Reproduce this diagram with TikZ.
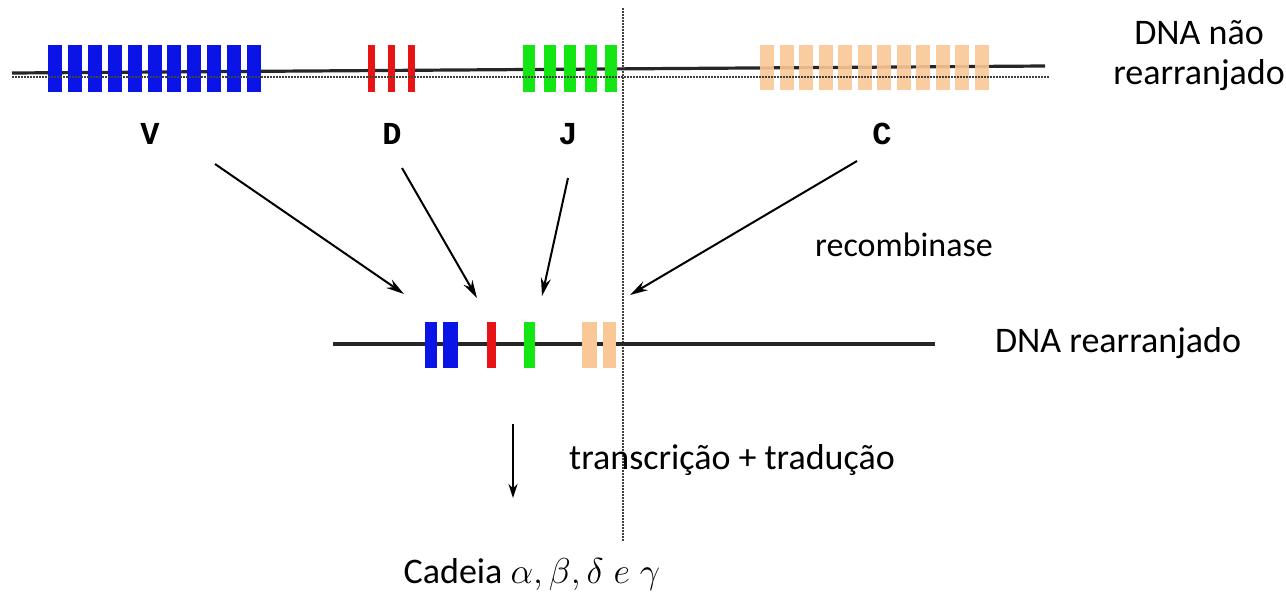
\documentclass[tikz,border=0pt]{standalone}
\usepackage{fix-cm}
\usepackage{fontspec}
\setmainfont{Carlito}
\newfontfamily\monolab{Liberation Mono}
\usetikzlibrary{arrows.meta}
\definecolor{vblue}{RGB}{10,20,230}
\definecolor{dred}{RGB}{230,20,20}
\definecolor{jgreen}{RGB}{20,230,20}
\definecolor{corange}{RGB}{250,200,150}
\tikzset{
  lbl/.style={font=\fontsize{36}{40}\selectfont, inner sep=0pt},
  seglbl/.style={font=\monolab\bfseries\fontsize{32}{34}\selectfont, inner sep=0pt},
  recarrow/.style={line width=2pt, -{Stealth[length=18pt,width=10pt]}},
  dna/.style={line width=3.2pt, black!85},
  dotline/.style={line width=1.3pt, black!75, dash pattern=on 1.5pt off 1.5pt},
}
\begin{document}
\begin{tikzpicture}[x=1pt,y=-1pt]
\useasboundingbox (0,0) rectangle (1286,592);
% vertical dotted separator
\draw[dotline] (623,8) -- (623,542);
% top DNA line
\draw[dna] (12,73) -- (1045,66);
\foreach \i in {0,...,10} \fill[vblue] ({48+19.9*\i},45) rectangle ++(14,47);
\foreach \i in {0,1,2} \fill[dred] ({368+20*\i},45) rectangle ++(7,47);
\foreach \i in {0,...,4} \fill[jgreen] ({523+20.5*\i},45) rectangle ++(12,47);
\foreach \i in {0,...,11} \fill[corange, opacity=0.9] ({760+19.5*\i},45) rectangle ++(14,45);
\draw[dotline] (12,77) -- (1050,77);
% labels
\node[seglbl] (V) at (150,134) {V};
\node[seglbl] (D) at (392,134) {D};
\node[seglbl] (J) at (568,134) {J};
\node[seglbl] (C) at (882,134) {C};
\node[lbl, align=center] (nr) at (1199,56) {DNA não\\rearranjado};
\node[lbl, font=\fontsize{34}{38}\selectfont] (rec) at (904,245) {recombinase};
% arrows
\coordinate (vs) at (215,164); \coordinate (ve) at (404,294);
\coordinate (ds) at (402,168); \coordinate (de) at (477,298);
\coordinate (js) at (568,178); \coordinate (je) at (542,296);
\coordinate (cs) at (857,161); \coordinate (ce) at (630,295);
\draw[recarrow] (vs) -- (ve);
\draw[recarrow] (ds) -- (de);
\draw[recarrow] (js) -- (je);
\draw[recarrow] (cs) -- (ce);
% rearranged DNA
\draw[dna] (333,344) -- (935,344);
\fill[vblue] (425,322) rectangle (437,368);
\fill[vblue] (443,322) rectangle (458,368);
\fill[dred] (487,322) rectangle (496,368);
\fill[jgreen] (524,322) rectangle (535,368);
\fill[corange] (582,322) rectangle (597,368);
\fill[corange] (603,322) rectangle (616,368);
\node[lbl] (r) at (1118,343) {DNA rearranjado};
% transcription arrow
\coordinate (ts) at (513,424); \coordinate (te) at (513,498);
\draw[line width=2.8pt, -{Stealth[length=14pt,width=9pt]}] (ts) -- (te);
\node[lbl] (tt) at (732,460) {transcrição + tradução};
\node[lbl] (cad) at (532,574) {Cadeia $\alpha, \beta, \delta\; e\; \gamma$};
\end{tikzpicture}
\end{document}
